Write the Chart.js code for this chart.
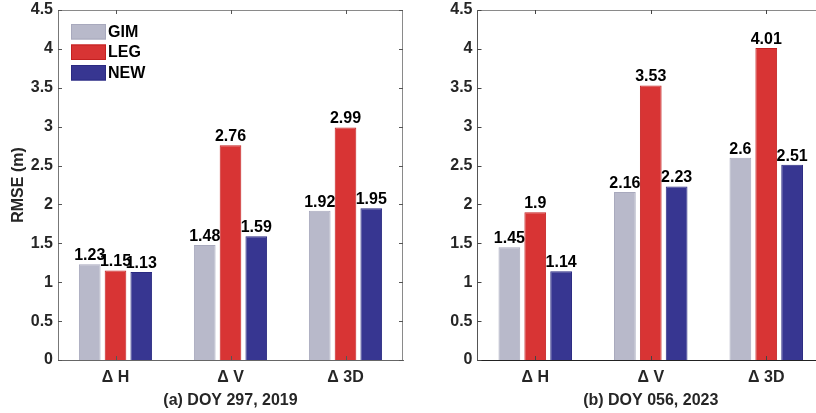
<!DOCTYPE html>
<html><head><meta charset="utf-8">
<script src="https://cdn.jsdelivr.net/npm/chart.js@4.4.1/dist/chart.umd.min.js"></script>
<style>
html,body{margin:0;padding:0;background:#fff;}
#wrap{position:relative;width:816px;height:413px;overflow:hidden;background:#fff;}
#c1{position:absolute;left:0;top:0;}
#c2{position:absolute;left:410px;top:0;}
</style></head><body>
<div id="wrap"><canvas id="c1" width="410" height="413"></canvas><canvas id="c2" width="430" height="413"></canvas></div>
<script>
const categories = ['\u0394 H', '\u0394 V', '\u0394 3D'];
const seriesNames = ['GIM', 'LEG', 'NEW'];
const gimA = [1.23, 1.48, 1.92];
const legA = [1.15, 2.76, 2.99];
const newA = [1.13, 1.59, 1.95];
const gimB = [1.45, 2.16, 2.6];
const legB = [1.9, 3.53, 4.01];
const newB = [1.14, 2.23, 2.51];
const yTicks = [0, 0.5, 1, 1.5, 2, 2.5, 3, 3.5, 4, 4.5];
const titleA = '(a) DOY 297, 2019';
const titleB = '(b) DOY 056, 2023';
const yTitle = 'RMSE (m)';

const fills = ['#b8b9ca', '#d83434', '#373691'];
const edges = ['#a8a9bd', '#c42020', '#2a2a82'];
const FAM = '"Liberation Sans", Arial, Helvetica, sans-serif';
const AXFONT = {family: FAM, size: 16, weight: 'bold'};

const valueLabels = {
  id: 'valueLabels',
  afterDatasetsDraw(chart) {
    const ctx = chart.ctx;
    ctx.save();
    ctx.font = 'bold 16px ' + FAM;
    ctx.fillStyle = '#000';
    ctx.textAlign = 'center';
    ctx.textBaseline = 'bottom';
    chart.data.datasets.forEach((ds, i) => {
      const meta = chart.getDatasetMeta(i);
      meta.data.forEach((bar, j) => {
        ctx.fillText(String(ds.data[j]), bar.x, bar.y - 0.5);
      });
    });
    ctx.restore();
  }
};

const frame = {
  id: 'frame',
  afterDraw(chart, args, opts) {
    const ctx = chart.ctx;
    const a = chart.chartArea;
    const xs = chart.scales.x, ys = chart.scales.y;
    ctx.save();
    ctx.lineWidth = 1;
    ctx.strokeStyle = opts.boxColor;
    ctx.beginPath();
    ctx.moveTo(a.left, a.top + 0.5); ctx.lineTo(a.right, a.top + 0.5);
    ctx.moveTo(a.right - 0.5, a.top); ctx.lineTo(a.right - 0.5, a.bottom);
    ctx.stroke();
    ctx.strokeStyle = opts.tickColor;
    ctx.beginPath();
    const L = 4;
    yTicks.forEach(v => {
      const y = Math.round(ys.getPixelForValue(v)) + 0.5;
      ctx.moveTo(a.left, y); ctx.lineTo(a.left + L, y);
      ctx.moveTo(a.right, y); ctx.lineTo(a.right - L, y);
    });
    categories.forEach((c, i) => {
      const x = Math.round(xs.getPixelForValue(i)) + 0.5;
      ctx.moveTo(x, a.bottom); ctx.lineTo(x, a.bottom - L);
      ctx.moveTo(x, a.top); ctx.lineTo(x, a.top + L);
    });
    ctx.stroke();
    if (opts.legend) {
      ctx.font = 'bold 16px ' + FAM;
      ctx.textAlign = 'left';
      ctx.textBaseline = 'middle';
      const tops = [24, 44.5, 65];
      seriesNames.forEach((n, i) => {
        ctx.fillStyle = fills[i];
        ctx.fillRect(71, tops[i], 35, 15.5);
        ctx.strokeStyle = edges[i];
        ctx.strokeRect(71.5, tops[i] + 0.5, 34, 14.5);
        ctx.fillStyle = '#000';
        ctx.fillText(n, 108, tops[i] + 8.5);
      });
    }
    ctx.restore();
  }
};

function makeChart(id, vals, title, opt) {
  return new Chart(document.getElementById(id), {
    type: 'bar',
    data: {
      labels: categories,
      datasets: seriesNames.map((n, i) => ({
        label: n,
        data: vals[i],
        backgroundColor: fills[i],
        borderColor: edges[i],
        borderWidth: 1,
        borderSkipped: 'start',
        categoryPercentage: 0.672,
        barPercentage: 0.84
      }))
    },
    options: {
      responsive: false,
      animation: false,
      devicePixelRatio: 1,
      layout: {padding: {top: 10, right: opt.padRight, bottom: 0, left: 0}},
      plugins: {
        legend: {display: false},
        tooltip: {enabled: false},
        frame: {boxColor: opt.boxColor, tickColor: opt.tickColor, legend: opt.legend}
      },
      scales: {
        x: {
          grid: {display: false, drawTicks: false},
          border: {display: true, color: opt.bottomColor, width: 1},
          ticks: {color: '#262626', font: AXFONT, padding: 8, maxRotation: 0},
          title: {display: true, text: title, color: '#262626', font: AXFONT, padding: {top: 0, bottom: 3}},
          afterFit(s) { s.height = 53; s.paddingLeft = 0; s.paddingRight = 0; }
        },
        y: {
          min: 0, max: 4.5,
          grid: {display: false, drawTicks: false},
          border: {display: true, color: opt.leftColor, width: 1},
          afterBuildTicks(s) { s.ticks = yTicks.map(v => ({value: v})); },
          ticks: {color: '#262626', font: AXFONT, padding: 5, callback: v => String(v)},
          title: {display: opt.yTitle, text: yTitle, color: '#262626', font: AXFONT, padding: {top: 9, bottom: 0}},
          afterFit(s) { s.width = opt.yWidth; s.paddingTop = 0; s.paddingBottom = 0; }
        }
      }
    },
    plugins: [valueLabels, frame]
  });
}

makeChart('c1', [gimA, legA, newA], titleA,
  {padRight: 7, yWidth: 58, yTitle: true, legend: true, boxColor: '#8a8a8a', tickColor: '#555',
   bottomColor: '#666', leftColor: '#777'});
makeChart('c2', [gimB, legB, newB], titleB,
  {padRight: 16, yWidth: 67.5, yTitle: false, legend: false, boxColor: '#8a8a8a', tickColor: '#444',
   bottomColor: '#222', leftColor: '#555'});
</script>
</body></html>
